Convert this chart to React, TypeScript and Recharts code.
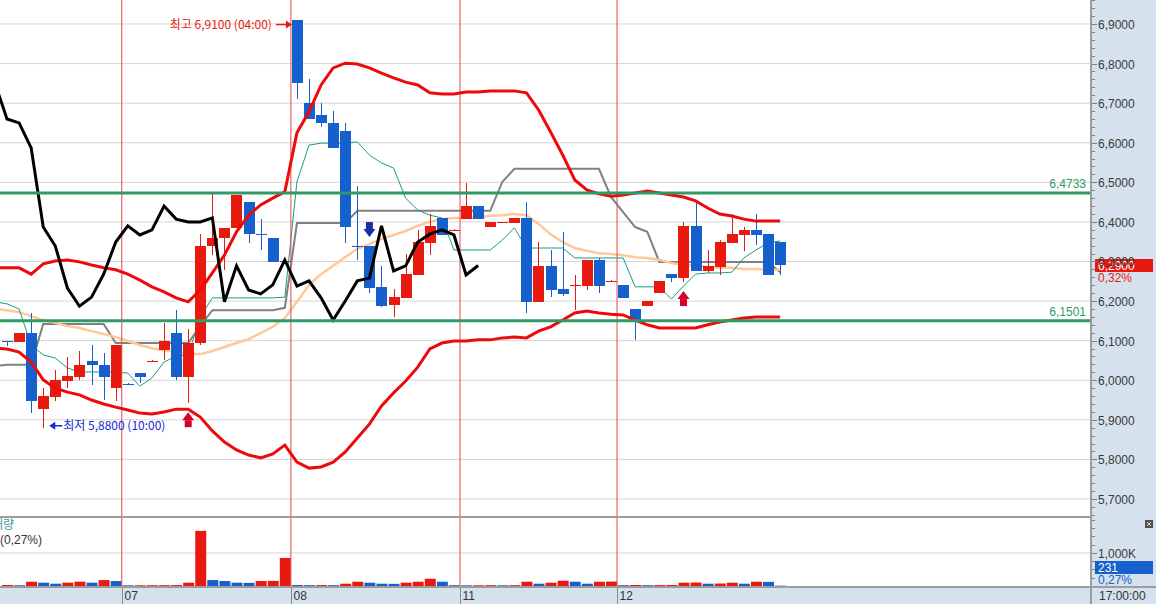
import React from "react";
import {
  ComposedChart,
  Bar,
  Line,
  XAxis,
  YAxis,
  CartesianGrid,
  ReferenceLine,
  ReferenceDot,
  Cell,
} from "recharts";

// ---------------- DATA ----------------
// slot -1 is the partially hidden slot at the left edge (lines only)
const slots = Array.from({ length: 66 }, (_, k) => k - 1);

const opens = [null, 6.099, 6.097, 6.119, 5.927, 5.958, 5.998, 6.008, 6.049, 6.038, 5.98, 5.991, 6.018, 6.048, 6.076, 6.119, 6.008, 6.094, 6.339, 6.359, 6.385, 6.45, 6.37, 6.359, 6.3, 6.91, 6.7, 6.67, 6.65, 6.63, 6.34, 6.339, 6.236, 6.19, 6.208, 6.266, 6.347, 6.41, 6.379, 6.407, 6.44, 6.387, 6.399, 6.397, 6.41, 6.198, 6.289, 6.23, 6.24, 6.238, 6.304, 6.25, 6.241, 6.18, 6.188, 6.22, 6.268, 6.258, 6.39, 6.276, 6.286, 6.347, 6.367, 6.38, 6.369, 6.349];
const highs = [null, 6.099, 6.119, 6.17, 5.98, 6.026, 6.059, 6.074, 6.089, 6.069, 6.089, 5.992, 6.018, 6.05, 6.145, 6.177, 6.129, 6.369, 6.47, 6.385, 6.468, 6.45, 6.407, 6.359, 6.303, 6.91, 6.761, 6.7, 6.68, 6.65, 6.491, 6.339, 6.289, 6.23, 6.319, 6.38, 6.42, 6.41, 6.381, 6.498, 6.44, 6.4, 6.401, 6.41, 6.45, 6.349, 6.329, 6.375, 6.266, 6.304, 6.309, 6.252, 6.241, 6.18, 6.2, 6.251, 6.268, 6.4, 6.45, 6.329, 6.354, 6.42, 6.387, 6.42, 6.369, 6.349];
const lows = [null, 6.086, 6.097, 5.917, 5.88, 5.947, 5.98, 6.001, 5.988, 5.95, 5.947, 5.989, 5.993, 6.047, 6.051, 6.001, 5.942, 6.089, 6.316, 6.279, 6.385, 6.347, 6.329, 6.299, 6.297, 6.711, 6.66, 6.64, 6.587, 6.347, 6.304, 6.22, 6.185, 6.16, 6.208, 6.266, 6.316, 6.367, 6.378, 6.407, 6.407, 6.387, 6.399, 6.397, 6.17, 6.198, 6.21, 6.213, 6.177, 6.228, 6.22, 6.25, 6.208, 6.102, 6.188, 6.22, 6.248, 6.248, 6.276, 6.271, 6.266, 6.347, 6.327, 6.342, 6.266, 6.266];
const closes = [null, 6.097, 6.119, 5.947, 5.96, 6.001, 6.011, 6.038, 6.038, 6.008, 6.089, 5.99, 6.008, 6.049, 6.099, 6.008, 6.094, 6.339, 6.359, 6.385, 6.468, 6.369, 6.368, 6.299, 6.299, 6.751, 6.66, 6.65, 6.587, 6.387, 6.339, 6.233, 6.187, 6.21, 6.268, 6.349, 6.39, 6.367, 6.38, 6.44, 6.407, 6.4, 6.4, 6.41, 6.198, 6.289, 6.228, 6.218, 6.241, 6.304, 6.238, 6.251, 6.208, 6.152, 6.2, 6.251, 6.258, 6.39, 6.276, 6.289, 6.349, 6.369, 6.38, 6.367, 6.266, 6.29];
const volumesK = [null, 30, 25, 130, 100, 70, 100, 130, 100, 180, 150, 20, 22, 24, 26, 28, 100, 1670, 180, 150, 100, 95, 150, 155, 850, 30, 25, 28, 25, 70, 130, 100, 70, 65, 100, 130, 220, 130, 25, 20, 22, 25, 22, 25, 130, 70, 100, 160, 130, 70, 130, 135, 25, 30, 25, 28, 30, 100, 105, 70, 75, 100, 70, 130, 125, 10];

const bbUpper = [6.284, 6.284, 6.284, 6.268, 6.294, 6.301, 6.304, 6.299, 6.291, 6.284, 6.279, 6.268, 6.253, 6.236, 6.223, 6.208, 6.198, 6.228, 6.271, 6.316, 6.375, 6.417, 6.443, 6.46, 6.476, 6.625, 6.678, 6.746, 6.789, 6.801, 6.799, 6.789, 6.776, 6.764, 6.753, 6.746, 6.726, 6.723, 6.723, 6.728, 6.728, 6.731, 6.731, 6.731, 6.726, 6.683, 6.627, 6.569, 6.506, 6.481, 6.471, 6.465, 6.468, 6.473, 6.478, 6.473, 6.468, 6.463, 6.453, 6.435, 6.42, 6.415, 6.407, 6.402, 6.402, 6.402];
const bbMiddle = [6.18, 6.177, 6.172, 6.162, 6.152, 6.145, 6.137, 6.132, 6.124, 6.117, 6.109, 6.099, 6.089, 6.081, 6.076, 6.071, 6.066, 6.066, 6.074, 6.084, 6.094, 6.104, 6.119, 6.135, 6.157, 6.198, 6.241, 6.268, 6.289, 6.311, 6.332, 6.344, 6.357, 6.367, 6.377, 6.39, 6.4, 6.407, 6.41, 6.41, 6.412, 6.415, 6.417, 6.42, 6.417, 6.395, 6.369, 6.349, 6.334, 6.327, 6.321, 6.319, 6.316, 6.311, 6.309, 6.304, 6.296, 6.291, 6.289, 6.286, 6.284, 6.284, 6.281, 6.281, 6.279, 6.279];
const bbLower = [6.081, 6.079, 6.071, 6.046, 6.001, 5.98, 5.97, 5.963, 5.95, 5.94, 5.932, 5.925, 5.917, 5.915, 5.92, 5.927, 5.927, 5.907, 5.872, 5.844, 5.824, 5.811, 5.804, 5.814, 5.836, 5.793, 5.778, 5.781, 5.793, 5.819, 5.854, 5.889, 5.935, 5.968, 5.998, 6.033, 6.079, 6.094, 6.099, 6.099, 6.102, 6.102, 6.107, 6.109, 6.107, 6.124, 6.135, 6.152, 6.17, 6.175, 6.17, 6.167, 6.165, 6.152, 6.14, 6.132, 6.132, 6.132, 6.132, 6.14, 6.147, 6.152, 6.157, 6.16, 6.16, 6.16];
const conversionLine = [6.198, 6.193, 6.18, 6.089, 6.064, 6.056, 6.031, 6.021, 6.021, 6.021, 6.021, 6.018, 5.985, 6.006, 6.046, 6.061, 6.064, 6.16, 6.208, 6.208, 6.208, 6.208, 6.208, 6.208, 6.21, 6.501, 6.594, 6.599, 6.599, 6.599, 6.602, 6.569, 6.549, 6.536, 6.46, 6.43, 6.417, 6.41, 6.329, 6.329, 6.329, 6.329, 6.354, 6.385, 6.334, 6.334, 6.334, 6.334, 6.309, 6.309, 6.309, 6.309, 6.309, 6.236, 6.236, 6.236, 6.205, 6.238, 6.268, 6.271, 6.271, 6.273, 6.309, 6.329, 6.347, 6.352];
const baseLine = [6.036, 6.039, 6.039, 6.039, 6.142, 6.142, 6.142, 6.142, 6.142, 6.142, 6.094, 6.094, 6.094, 6.094, 6.094, 6.094, 6.094, 6.137, 6.177, 6.177, 6.177, 6.177, 6.177, 6.177, 6.183, 6.397, 6.397, 6.397, 6.397, 6.397, 6.428, 6.428, 6.428, 6.428, 6.428, 6.428, 6.428, 6.428, 6.428, 6.428, 6.428, 6.428, 6.501, 6.534, 6.534, 6.534, 6.534, 6.534, 6.534, 6.534, 6.534, 6.463, 6.425, 6.387, 6.375, 6.299, 6.299, 6.299, 6.299, 6.299, 6.299, 6.299, 6.299, 6.299, 6.299, 6.273];
const laggingSpan = [6.751, 6.66, 6.65, 6.587, 6.387, 6.339, 6.233, 6.187, 6.21, 6.268, 6.349, 6.39, 6.367, 6.38, 6.44, 6.407, 6.4, 6.4, 6.41, 6.198, 6.289, 6.228, 6.218, 6.241, 6.304, 6.238, 6.251, 6.208, 6.152, 6.2, 6.251, 6.258, 6.39, 6.276, 6.289, 6.349, 6.369, 6.38, 6.367, 6.266, 6.29];

const dayStartSlots = [10, 24, 38, 51];
const dayLabels = ["07", "08", "11", "12"];
const priceTicks = [5.7, 5.8, 5.9, 6.0, 6.1, 6.2, 6.3, 6.4, 6.5, 6.6, 6.7, 6.8, 6.9];
const levelLines = [6.4733, 6.1501];
const upSignalSlots = [15, 56];
const downSignalSlots = [30];
const highTime = "04:00";
const lowTime = "10:00";
const priceChangeText = "0,32%";
const volumeNowText = "231";
const volumeChangeText = "0,27%";
const volumeTicks = [250, 500, 750, 1000, 1250, 1500, 1750, 2000];
const timeLabel = "17:00:00";

// ---------------- STYLE ----------------
const RED = "#e8190f";
const BLUE = "#1560cc";
const BB = "#ee0a0a";
const GREEN = "#2f9a66";
const SEP = "#e04848";
const PANEL = "#d6e1ee";
const NUMFONT = "'Liberation Sans', Arial, sans-serif";
const KRFONT = "'Noto Sans CJK KR', 'Liberation Sans', sans-serif";

const X_DOMAIN: [number, number] = [-0.5795, 89.65];
const Y_DOMAIN: [number, number] = [5.6545, 6.9606];

const fmt4 = (v: number) => v.toFixed(4).replace(".", ",");

const data = slots.map((s, k) => ({
  x: s,
  o: opens[k],
  h: highs[k],
  l: lows[k],
  c: closes[k],
  v: volumesK[k],
  bbU: bbUpper[k],
  bbM: bbMiddle[k],
  bbL: bbLower[k],
  conv: conversionLine[k],
  base: baseLine[k],
  lag: k < laggingSpan.length ? laggingSpan[k] : null,
}));

const volColors = data.map((d, k) => {
  if (d.v == null) return BLUE;
  const prev = k > 0 ? data[k - 1].v : null;
  return prev == null || d.v > prev ? RED : BLUE;
});

const axisTicks: number[] = [];
for (let k = 0; k <= 65; k++) axisTicks.push(Math.round((5.66 + 0.02 * k) * 100) / 100);

const candleRows = data.filter((d) => d.o != null);
const hiRow = candleRows.reduce((a, b) => (b.h > a.h ? b : a));
const loRow = candleRows.reduce((a, b) => (b.l < a.l ? b : a));
const lastRow = candleRows[candleRows.length - 1];

// ---------------- SHAPES ----------------
const Candle = (props: any) => {
  const { x, y, width, height, payload } = props;
  if (!payload || payload.o == null || !isFinite(y) || !isFinite(height)) return <g />;
  const { o, h, l, c } = payload;
  const top = height >= 0 ? y : y + height;
  const hh = Math.abs(height);
  const k = h - l > 0 ? hh / (h - l) : 0;
  const py = (v: number) => top + (h - v) * k;
  const col = c >= o ? RED : BLUE;
  const bTop = Math.round(py(Math.max(o, c)));
  const bBot = Math.round(py(Math.min(o, c)));
  const bx = Math.round(x);
  const w = Math.round(width);
  const cx = bx + Math.floor(w / 2) + 0.5;
  return (
    <g shapeRendering="crispEdges">
      <line x1={cx} x2={cx} y1={top} y2={top + hh} stroke={col} strokeWidth={1} />
      <rect x={bx} y={bTop} width={w} height={Math.max(1, bBot - bTop)} fill={col} />
    </g>
  );
};

const PriceTick = (props: any) => {
  const { x, y, payload } = props;
  const v = payload.value;
  const major = Math.abs(v * 10 - Math.round(v * 10)) < 1e-6;
  const yy = Math.round(y) + 0.5;
  return (
    <g>
      <line x1={x + 2} x2={x + (major ? 7 : 5)} y1={yy} y2={yy} stroke="#808080" />
      {major && (
        <text x={x + 8} y={yy + 4.5} fill="#3a3a3a" fontSize={12} fontFamily={NUMFONT}>
          {fmt4(v)}
        </text>
      )}
    </g>
  );
};

const VolTick = (props: any) => {
  const { x, y, payload } = props;
  const v = payload.value;
  const major = v === 1000;
  const yy = Math.round(y) + 0.5;
  return (
    <g>
      <line x1={x + 2} x2={x + (major ? 7 : 5)} y1={yy} y2={yy} stroke="#808080" />
      {major && (
        <text x={x + 8} y={yy + 4.5} fill="#3a3a3a" fontSize={12} fontFamily={NUMFONT}>
          {"1,000K"}
        </text>
      )}
    </g>
  );
};

const DateTick = (props: any) => {
  const { x, y, index } = props;
  const xx = Math.round(x) + 0.5;
  return (
    <g>
      <line x1={xx} x2={xx} y1={y + 1} y2={y + 18} stroke="#8a8a8a" />
      <text x={xx + 2} y={y + 14} fill="#333" fontSize={12} fontFamily={NUMFONT}>
        {dayLabels[index] ?? ""}
      </text>
    </g>
  );
};

const HighMarker = (props: any) => {
  const { cx, cy } = props;
  const yy = cy + 4.5;
  return (
    <g>
      <text x={cx - 25} y={yy + 4} textAnchor="end" fill={RED} fontSize={12} fontFamily={KRFONT}>
        {`최고 ${fmt4(hiRow.h)} (${highTime})`}
      </text>
      <line x1={cx - 21} x2={cx - 10} y1={yy} y2={yy} stroke={RED} strokeWidth={1.5} />
      <path d={`M${cx - 11},${yy - 4} L${cx - 5},${yy} L${cx - 11},${yy + 4} Z`} fill={RED} />
    </g>
  );
};

const LowMarker = (props: any) => {
  const { cx, cy } = props;
  const yy = cy - 2;
  const col = "#1428dc";
  return (
    <g>
      <path d={`M${cx + 6},${yy} L${cx + 12},${yy - 4} L${cx + 12},${yy + 4} Z`} fill={col} />
      <line x1={cx + 11} x2={cx + 19} y1={yy} y2={yy} stroke={col} strokeWidth={1.5} />
      <text x={cx + 20} y={yy + 4.5} fill={col} fontSize={12} fontFamily={KRFONT}>
        {`최저 ${fmt4(loRow.l)} (${lowTime})`}
      </text>
    </g>
  );
};

const UpArrow = (props: any) => {
  const { cx, cy } = props;
  const col = "#d6002a";
  return (
    <g>
      <path d={`M${cx - 6},${cy + 17} L${cx},${cy + 9} L${cx + 6},${cy + 17} Z`} fill={col} />
      <rect x={cx - 3.5} y={cy + 17} width={7} height={7} fill={col} />
    </g>
  );
};

const DownArrow = (props: any) => {
  const { cx, cy } = props;
  const col = "#1a2ea6";
  return (
    <g>
      <rect x={cx - 3.5} y={cy - 24} width={7} height={7} fill={col} />
      <path d={`M${cx - 6},${cy - 17} L${cx},${cy - 9} L${cx + 6},${cy - 17} Z`} fill={col} />
    </g>
  );
};

const levelLabel = (value: number) => (props: any) => {
  const vb = props.viewBox || {};
  return (
    <text
      x={vb.x + vb.width - 4}
      y={vb.y - 5}
      textAnchor="end"
      fill={GREEN}
      fontSize={12}
      fontFamily={NUMFONT}
    >
      {fmt4(value)}
    </text>
  );
};

const PriceTag = (props: any) => {
  const vb = props.viewBox || {};
  const x0 = vb.x + vb.width + 5;
  const y0 = Math.round(vb.y);
  return (
    <g>
      <text x={x0 + 3} y={y0 + 16.5} fill={RED} fontSize={12} fontFamily={NUMFONT}>
        {priceChangeText}
      </text>
      <rect x={x0} y={y0 - 6} width={58} height={13} fill={RED} />
      <text x={x0 + 3} y={y0 + 4.5} fill="#fff" fontSize={12} fontFamily={NUMFONT}>
        {fmt4(lastRow.c)}
      </text>
    </g>
  );
};

// ---------------- APP ----------------
export default function App() {
  return (
    <div
      style={{
        position: "absolute",
        left: 0,
        top: 0,
        width: 1156,
        height: 604,
        background: "#fff",
        overflow: "hidden",
      }}
    >
      <div style={{ position: "absolute", left: 1092, top: 0, width: 64, height: 604, background: PANEL }} />
      <div style={{ position: "absolute", left: 0, top: 588, width: 1156, height: 16, background: PANEL }} />

      <div style={{ position: "absolute", left: 0, top: 0 }}>
        <ComposedChart width={1156} height={517} data={data} margin={{ top: 0, right: 0, bottom: 0, left: 0 }}>
          <CartesianGrid vertical={false} horizontalValues={priceTicks} stroke="#d6d6d6" />
          <XAxis dataKey="x" type="number" domain={X_DOMAIN} allowDataOverflow hide />
          <YAxis
            orientation="right"
            width={66}
            domain={Y_DOMAIN}
            allowDataOverflow
            ticks={axisTicks}
            interval={0}
            tick={<PriceTick />}
            tickLine={false}
            axisLine={false}
            tickSize={0}
            tickMargin={0}
          />
          {dayStartSlots.map((s) => (
            <ReferenceLine key={"sep" + s} x={s - 0.5} stroke={SEP} strokeWidth={1} />
          ))}
          <Line dataKey="base" stroke="#808080" strokeWidth={2} dot={false} isAnimationActive={false} zIndex={250} />
          <Line dataKey="bbM" stroke="#ffc896" strokeWidth={2.5} dot={false} isAnimationActive={false} zIndex={250} />
          <Line dataKey="conv" stroke="#1a9a88" strokeWidth={1} dot={false} isAnimationActive={false} zIndex={250} />
          <Bar
            dataKey={(d: any) => (d.o == null ? null : [d.l, d.h])}
            barSize={11}
            shape={<Candle />}
            isAnimationActive={false}
          />
          <Line dataKey="bbU" stroke={BB} strokeWidth={3} dot={false} isAnimationActive={false} />
          <Line dataKey="bbL" stroke={BB} strokeWidth={3} dot={false} isAnimationActive={false} />
          <Line dataKey="lag" stroke="#000" strokeWidth={3} dot={false} isAnimationActive={false} />
          {levelLines.map((v) => (
            <ReferenceLine key={"lv" + v} y={v} stroke={GREEN} strokeWidth={3} label={levelLabel(v)} />
          ))}
          <ReferenceLine y={lastRow.c} stroke="none" label={PriceTag} />
          {upSignalSlots.map((s) => (
            <ReferenceDot key={"up" + s} x={s} y={data[s + 1].l} ifOverflow="visible" shape={<UpArrow />} />
          ))}
          {downSignalSlots.map((s) => (
            <ReferenceDot key={"dn" + s} x={s} y={data[s + 1].h} ifOverflow="visible" shape={<DownArrow />} />
          ))}
          <ReferenceDot x={hiRow.x} y={hiRow.h} ifOverflow="visible" shape={<HighMarker />} />
          <ReferenceDot x={loRow.x} y={loRow.l} ifOverflow="visible" shape={<LowMarker />} />
        </ComposedChart>
      </div>

      <div style={{ position: "absolute", left: 0, top: 517 }}>
        <ComposedChart width={1156} height={87} data={data} margin={{ top: 0, right: 0, bottom: 0, left: 0 }}>
          <CartesianGrid vertical={false} horizontalValues={[1000]} stroke="#d6d6d6" />
          <XAxis
            dataKey="x"
            type="number"
            domain={X_DOMAIN}
            allowDataOverflow
            height={18}
            ticks={dayStartSlots.map((s) => s - 0.5)}
            interval={0}
            tick={<DateTick />}
            tickLine={false}
            axisLine={false}
            tickSize={0}
            tickMargin={0}
          />
          <YAxis
            orientation="right"
            width={66}
            domain={[0, 2090]}
            allowDataOverflow
            ticks={volumeTicks}
            interval={0}
            tick={<VolTick />}
            tickLine={false}
            axisLine={false}
            tickSize={0}
            tickMargin={0}
          />
          {dayStartSlots.map((s) => (
            <ReferenceLine key={"vsep" + s} x={s - 0.5} stroke={SEP} strokeWidth={1} />
          ))}
          <Bar dataKey="v" barSize={11} isAnimationActive={false}>
            {data.map((d, k) => (
              <Cell key={k} fill={volColors[k]} />
            ))}
          </Bar>
        </ComposedChart>
      </div>

      <svg
        width={1156}
        height={604}
        style={{ position: "absolute", left: 0, top: 0, pointerEvents: "none" }}
      >
        <rect x={1090} y={0} width={2} height={604} fill="#9c9c9c" />
        <rect x={0} y={516} width={1090} height={2} fill="#9c9c9c" />
        <rect x={0} y={586} width={1156} height={2} fill="#9c9c9c" />
        <text x={-19} y={529} fill="#3a9a9a" fontSize={12} fontFamily={KRFONT}>
          거래량
        </text>
        <text x={0} y={544} fill="#333" fontSize={12} fontFamily={NUMFONT}>
          {`(${volumeChangeText})`}
        </text>
        <rect x={1095} y={561} width={58} height={13} fill={BLUE} />
        <text x={1098} y={572} fill="#fff" fontSize={12} fontFamily={NUMFONT}>
          {volumeNowText}
        </text>
        <text x={1098} y={584} fill={BLUE} fontSize={12} fontFamily={NUMFONT}>
          {volumeChangeText}
        </text>
        <rect x={1145} y={520} width={8} height={8} fill="#505050" />
        <path d="M1147,522 L1151,526 M1151,522 L1147,526" stroke="#ddd" strokeWidth={1} />
        <text x={1099} y={600} fill="#333" fontSize={12} fontFamily={NUMFONT}>
          {timeLabel}
        </text>
      </svg>
    </div>
  );
}
